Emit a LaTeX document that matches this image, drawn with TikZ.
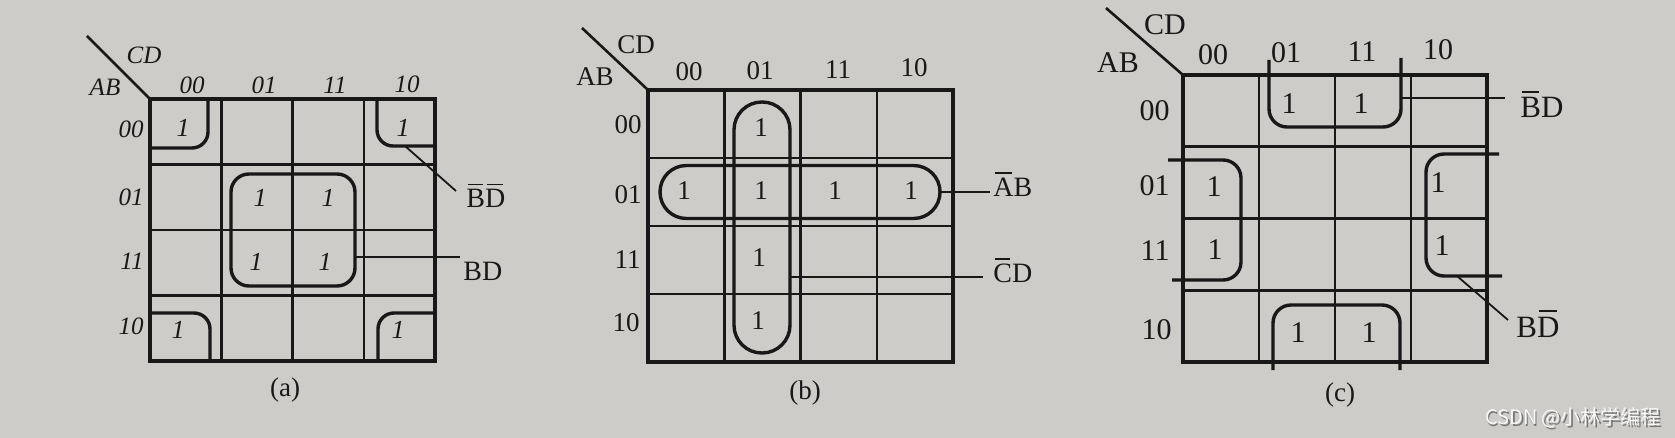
\documentclass[tikz,border=0pt]{standalone}
\usepackage{fontspec}
\setmainfont{Liberation Serif}
\newfontfamily\cjkfont{Noto Sans CJK SC}
\definecolor{paper}{RGB}{206,204,201}
\definecolor{ink}{RGB}{24,24,24}
\definecolor{wmshadow}{RGB}{120,120,120}
\newcommand\ob[1]{\leavevmode\setbox0\hbox{#1}\rlap{\hskip0.1\wd0\rule[\dimexpr\ht0+0.16em\relax]{0.8\wd0}{0.06em}}\box0}
\tikzset{
  outer/.style={draw=ink, line width=1.9pt, line join=miter},
  inner/.style={draw=ink, line width=1.25pt},
  diag/.style={draw=ink, line width=1.3pt},
  grp/.style={draw=ink, line width=1.7pt, rounded corners=#1},
  grp/.default=9pt,
  leader/.style={draw=ink, line width=0.9pt},
  txt/.style={text=ink, inner sep=0pt},
  oneA/.style={txt, font=\fontsize{13}{15}\selectfont\itshape},
  labA/.style={txt, font=\fontsize{12.5}{14}\selectfont\itshape},
  letA/.style={txt, font=\fontsize{14}{16}\selectfont},
  oneB/.style={txt, font=\fontsize{13.5}{15}\selectfont},
  labB/.style={txt, font=\fontsize{13.5}{15}\selectfont},
  letB/.style={txt, font=\fontsize{14}{16}\selectfont},
  oneC/.style={txt, font=\fontsize{15}{17}\selectfont},
  labC/.style={txt, font=\fontsize{15}{17}\selectfont},
  letC/.style={txt, font=\fontsize{15.5}{17}\selectfont},
  capt/.style={txt, font=\fontsize{13.5}{15}\selectfont},
}
\begin{document}
\begin{tikzpicture}[x=0.5pt,y=-0.5pt]
\useasboundingbox[fill=paper] (0,0) rectangle (1675,438);

% ================= (a) =================
\draw[outer] (150,99) rectangle (435,361);
\foreach \x in {221.25,292.5,363.75} \draw[inner] (\x,99) -- (\x,361);
\foreach \y in {164.5,230,295.5} \draw[inner] (150,\y) -- (435,\y);
\coordinate (aD1) at (87,36);
\coordinate (aD2) at (150,99);
\draw[diag] (aD1) -- (aD2);
\node[labA] (aCD) at (144,55) {CD};
\node[labA] (aAB) at (105,87) {AB};
\node[labA] (ac0) at (192,85) {00};
\node[labA] (ac1) at (264,85) {01};
\node[labA] (ac2) at (335,85) {11};
\node[labA] (ac3) at (407,84) {10};
\node[labA, anchor=east] (ar0) at (144,129) {00};
\node[labA, anchor=east] (ar1) at (144,197) {01};
\node[labA, anchor=east] (ar2) at (144,261) {11};
\node[labA, anchor=east] (ar3) at (144,326) {10};
% ones
\node[oneA] (a00) at (183,128) {1};
\node[oneA] (a03) at (403,128) {1};
\node[oneA] (a11) at (260,198) {1};
\node[oneA] (a12) at (328,198) {1};
\node[oneA] (a21) at (256,262) {1};
\node[oneA] (a22) at (325,262) {1};
\node[oneA] (a30) at (178,330) {1};
\node[oneA] (a33) at (398,330) {1};
% groups
\draw[grp=8pt] (150,148) -- (208,148) -- (208,99);
\draw[grp=8pt] (377,99) -- (377,146) -- (435,146);
\draw[grp=8pt] (150,313) -- (210,313) -- (210,361);
\draw[grp=8pt] (378,361) -- (378,313) -- (435,313);
\draw[grp=9pt] (231,174) rectangle (355,286);
% leaders and labels
\coordinate (aS1) at (405,146);
\coordinate (aE1) at (456,191);
\draw[leader] (aS1) -- (aE1);
\node[letA, anchor=base west] (aBDbb) at (466,208) {\ob{B}\ob{D}};
\coordinate (aS2) at (355,257);
\coordinate (aE2) at (460,257);
\draw[leader] (aS2) -- (aE2);
\node[letA, anchor=base west] (aBD) at (463,280) {BD};
\node[capt] (acap) at (285,390) {(a)};

% ================= (b) =================
\draw[outer] (648,90) rectangle (953,362);
\foreach \x in {724.25,800.5,876.75} \draw[inner] (\x,90) -- (\x,362);
\foreach \y in {158,226,294} \draw[inner] (648,\y) -- (953,\y);
\coordinate (bD1) at (582,28);
\coordinate (bD2) at (648,90);
\draw[diag] (bD1) -- (bD2);
\node[labB] (bCD) at (636,45) {CD};
\node[labB] (bAB) at (595,77) {AB};
\node[labB] (bc0) at (689,72) {00};
\node[labB] (bc1) at (760,71) {01};
\node[labB] (bc2) at (838,70) {11};
\node[labB] (bc3) at (914,68) {10};
\node[labB, anchor=east] (br0) at (642,125) {00};
\node[labB, anchor=east] (br1) at (642,195) {01};
\node[labB, anchor=east] (br2) at (641,260) {11};
\node[labB, anchor=east] (br3) at (640,323) {10};
% ones
\node[oneB] (b01) at (761,128) {1};
\node[oneB] (b10) at (684,191) {1};
\node[oneB] (b11) at (761,191) {1};
\node[oneB] (b12) at (835,191) {1};
\node[oneB] (b13) at (911,191) {1};
\node[oneB] (b21) at (759,258) {1};
\node[oneB] (b31) at (758,321) {1};
% groups
\draw[grp=13.9pt] (734,102) rectangle (790,353);
\draw[grp=13.2pt] (660,165.5) rectangle (940,218.5);
% leaders and labels
\coordinate (bS1) at (940,192);
\coordinate (bE1) at (990,192);
\draw[leader] (bS1) -- (bE1);
\node[letB, anchor=base west] (bAbB) at (993,197) {\ob{A}B};
\coordinate (bS2) at (789,277);
\coordinate (bE2) at (983,277);
\draw[leader] (bS2) -- (bE2);
\node[letB, anchor=base west] (bCbD) at (993,283) {\ob{C}D};
\node[capt] (bcap) at (805,393) {(b)};

% ================= (c) =================
\draw[outer] (1183,75) rectangle (1487,362);
\foreach \x in {1259,1335,1411} \draw[inner] (\x,75) -- (\x,362);
\foreach \y in {146.75,218.5,290.25} \draw[inner] (1183,\y) -- (1487,\y);
\coordinate (cD1) at (1106,8);
\coordinate (cD2) at (1183,75);
\draw[diag] (cD1) -- (cD2);
\node[labC] (cCD) at (1165,25) {CD};
\node[labC] (cAB) at (1118,63) {AB};
\node[labC] (cc0) at (1213,55) {00};
\node[labC] (cc1) at (1286,53) {01};
\node[labC] (cc2) at (1362,52) {11};
\node[labC] (cc3) at (1438,50) {10};
\node[labC, anchor=east] (cr0) at (1170,111) {00};
\node[labC, anchor=east] (cr1) at (1170,186) {01};
\node[labC, anchor=east] (cr2) at (1170,251) {11};
\node[labC, anchor=east] (cr3) at (1172,330) {10};
% ones
\node[oneC] (c01) at (1289,104) {1};
\node[oneC] (c02) at (1361,104) {1};
\node[oneC] (c10) at (1214,187) {1};
\node[oneC] (c13) at (1438,183) {1};
\node[oneC] (c20) at (1215,250) {1};
\node[oneC] (c23) at (1442,246) {1};
\node[oneC] (c31) at (1298,333) {1};
\node[oneC] (c32) at (1369,333) {1};
% groups
\draw[grp=9pt] (1269,60) -- (1269,127) -- (1401,127) -- (1401,58);
\draw[grp=9pt] (1168,160) -- (1241,160) -- (1241,280) -- (1172,280);
\draw[grp=9pt] (1499,154) -- (1426,154) -- (1426,276) -- (1502,276);
\draw[grp=9pt] (1273,370) -- (1273,305) -- (1400,305) -- (1400,370);
% leaders and labels
\coordinate (cS1) at (1401,98);
\coordinate (cE1) at (1505,98);
\draw[leader] (cS1) -- (cE1);
\node[letC, anchor=base west] (cBbD) at (1520,118) {\ob{B}D};
\coordinate (cS2) at (1457,276);
\coordinate (cE2) at (1508,320);
\draw[leader] (cS2) -- (cE2);
\node[letC, anchor=base west] (cBDb) at (1516,337) {B\ob{D}};
\node[capt] (ccap) at (1340,395) {(c)};

% watermark
\node[font=\cjkfont\fontsize{10}{12}\selectfont, text=wmshadow, inner sep=0pt] (wmS) at (1574.8,419.8) {CSDN @小林学编程};
\node[font=\cjkfont\fontsize{10}{12}\selectfont, text=white!94!gray, inner sep=0pt] (wm) at (1573,418) {CSDN @小林学编程};
\end{tikzpicture}
\end{document}
